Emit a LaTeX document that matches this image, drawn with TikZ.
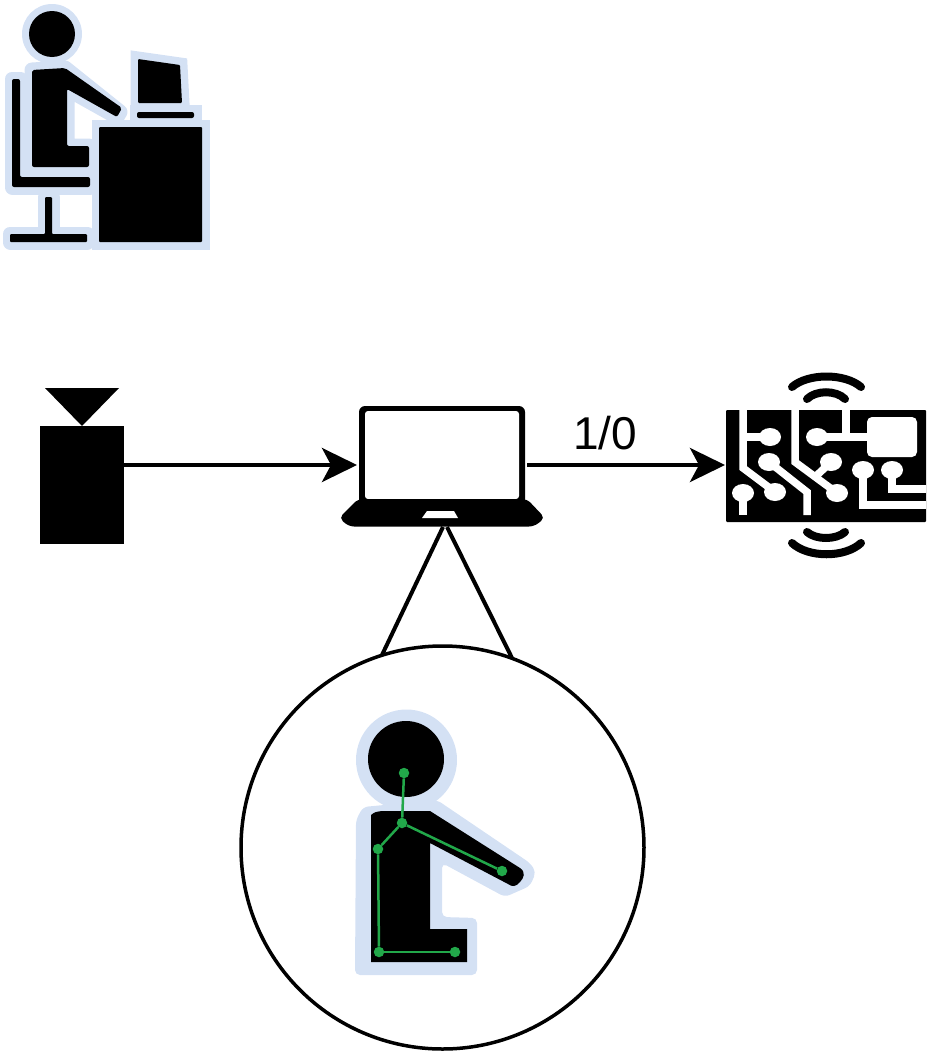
\documentclass[tikz,border=0pt]{standalone}
\usepackage{fontspec}
\setmainfont{Liberation Sans}
\usepackage{xcolor}
\usetikzlibrary{positioning}
\usetikzlibrary{calc}
\usetikzlibrary{arrows.meta}
\definecolor{haloblue}{HTML}{D4E1F4}
\definecolor{jointgreen}{HTML}{22A84A}
\tikzset{
  halo/.style={draw=haloblue,fill=haloblue,line width=#1,line join=round},
  halo/.default=15,
  flow/.style={line width=4pt,-{Stealth[length=35pt,width=34pt,inset=9pt]}},
  trace/.style={draw=white,line width=7.5pt},
  wave/.style={draw=black,line width=8pt,line cap=round},
  joint/.style={circle,fill=jointgreen,draw=none,minimum size=10.5pt,inner sep=0pt},
  bone/.style={draw=jointgreen,line width=2.5pt},
  zoomline/.style={draw=black,line width=4pt}
}
\begin{document}
\begin{tikzpicture}[x=1pt,y=-1pt]
\useasboundingbox (0,0) rectangle (928,1052);

% operator at the desk
\fill[haloblue] (52,34) circle (30);
\draw[halo] (32,70) -- (65,68) -- (120,112) -- (117,117) -- (67,89) -- (67,146) -- (89,146) -- (89,167) -- (32,167) -- cycle;
\draw[halo] (12,79) -- (20,79) -- (20,177) -- (90,177) -- (90,187) -- (12,187) -- cycle;
\draw[halo] (45,197) -- (52,197) -- (52,234) -- (87,234) -- (87,242) -- (10,242) -- (10,234) -- (45,234) -- cycle;
\draw[halo,line join=miter] (138,59) -- (180,65) -- (182,103) -- (138,103) -- cycle;
\draw[halo,line join=miter] (137,112) -- (194,112) -- (194,118) -- (137,118) -- cycle;
\draw[halo,line join=miter] (99,127) rectangle (202,242);
\fill[black] (52,34) circle (23);
\fill[black,rounded corners=2pt] (32,70) -- (65,68) -- (122,108) -- (117,117) -- (67,89) -- (67,146) -- (89,146) -- (89,167) -- (32,167) -- cycle;
\fill[black,rounded corners=2pt] (12,79) -- (20,79) -- (20,177) -- (90,177) -- (90,187) -- (12,187) -- cycle;
\fill[black,rounded corners=1pt] (45,197) -- (52,197) -- (52,234) -- (87,234) -- (87,242) -- (10,242) -- (10,234) -- (45,234) -- cycle;
\fill[black,rounded corners=1pt] (138,59) -- (180,65) -- (182,103) -- (138,103) -- cycle;
\fill[black,rounded corners=2pt] (137,112) -- (194,112) -- (194,118) -- (137,118) -- cycle;
\fill[black,rounded corners=1pt] (99,127) rectangle (202,242);

% camera
\fill[black] (45,388) -- (119,388) -- (82,426) -- cycle;
\fill[black] (40,426) rectangle (124,544);
\coordinate (cam) at (124,465);

% laptop
\fill[black,rounded corners=6pt] (359,406) -- (525,406) -- (525,505) -- (359,505) -- cycle;
\fill[white,rounded corners=3pt] (365,411) -- (519,411) -- (519,499) -- (365,499) -- cycle;
\fill[black,rounded corners=5pt] (358,499) -- (527,499) -- (545,518) -- (534,526.5) -- (349,526.5) -- (339,518) -- cycle;
\fill[white] (427,511) -- (454,511) -- (458,518) -- (422,518) -- cycle;
\coordinate (lapin) at (357,465);
\coordinate (lapout) at (527,465);
\coordinate (lapa) at (443,527);
\coordinate (lapb) at (447,527);

% board
\fill[black,rounded corners=1pt] (726,410) rectangle (926,522);
\coordinate (brd) at (725,465);
\fill[white,rounded corners=5pt] (867,417) rectangle (917,457);
\draw[trace] (743,410) -- (743,468) -- (775,492);
\draw[trace] (743,437) -- (770,437);
\draw[trace] (795,410) -- (795,462) -- (837,493);
\draw[trace] (815,477) -- (831,462);
\draw[trace] (769,462) -- (807,492) -- (807,515);
\draw[trace] (817,437) -- (867,437);
\draw[trace] (846,410) -- (846,437);
\draw[trace] (863,470) -- (863,505) -- (926,505);
\draw[trace] (892,470) -- (892,489) -- (926,489);
\draw[trace] (743,493) -- (743,515);
\foreach \px/\py in {775/492,770/437,837/493,831/462,769/462,817/437,863/470,892/470,743/493}
  \fill[white] (\px,\py) ellipse (11 and 9);
\draw[wave] (792,387) .. controls (808,373) and (845,373) .. (861,387);
\draw[wave] (807,399) .. controls (816,390) and (836,390) .. (845,399);
\draw[wave] (792,543) .. controls (808,558) and (845,558) .. (861,543);
\draw[wave] (807,532) .. controls (816,540) and (836,540) .. (845,532);

% connections
\draw[flow] (cam) -- (lapin);
\draw[flow] (lapout) -- (brd);
\node[inner sep=0pt] (bit) at (605,433) {\fontsize{46}{50}\selectfont 1/0};

% magnified view
\coordinate (ringa) at (382,655);
\coordinate (ringb) at (512,658);
\draw[zoomline] (lapa) -- (ringa);
\draw[zoomline] (lapb) -- (ringb);
\node[circle,draw=black,line width=3.5pt,minimum size=403pt,inner sep=0pt] (ring) at (442.5,847.5) {};

\fill[haloblue] (406.5,760) circle (50.5);
\fill[haloblue,rounded corners=5pt] (356,820) -- (363,807) -- (437,800) -- (530,863) -- (536,872) -- (530,886) -- (505,897) -- (442,863) -- (442,917) -- (477,918) -- (477,975) -- (355,975) -- cycle;
\fill[black] (406,759) circle (38);
\fill[black] (371,815) .. controls (375,812) .. (382,811) -- (430,811) -- (520,868) .. controls (526,872) and (524,878) .. (520,882) .. controls (516,887) and (512,887) .. (508,884) -- (430,843) -- (430,929) -- (467,929) -- (467,962) -- (371,962) -- cycle;

% skeleton
\node[joint] (nose) at (404,773) {};
\node[joint] (neck) at (402,823) {};
\node[joint] (shoulder) at (378,849) {};
\node[joint] (hip) at (379,952) {};
\node[joint] (knee) at (455,952) {};
\node[joint] (wrist) at (502,871) {};
\draw[bone] (nose) -- (neck);
\draw[bone] (neck) -- (shoulder);
\draw[bone] (neck) -- (wrist);
\draw[bone] (shoulder) -- (hip);
\draw[bone] (hip) -- (knee);
\end{tikzpicture}
\end{document}
